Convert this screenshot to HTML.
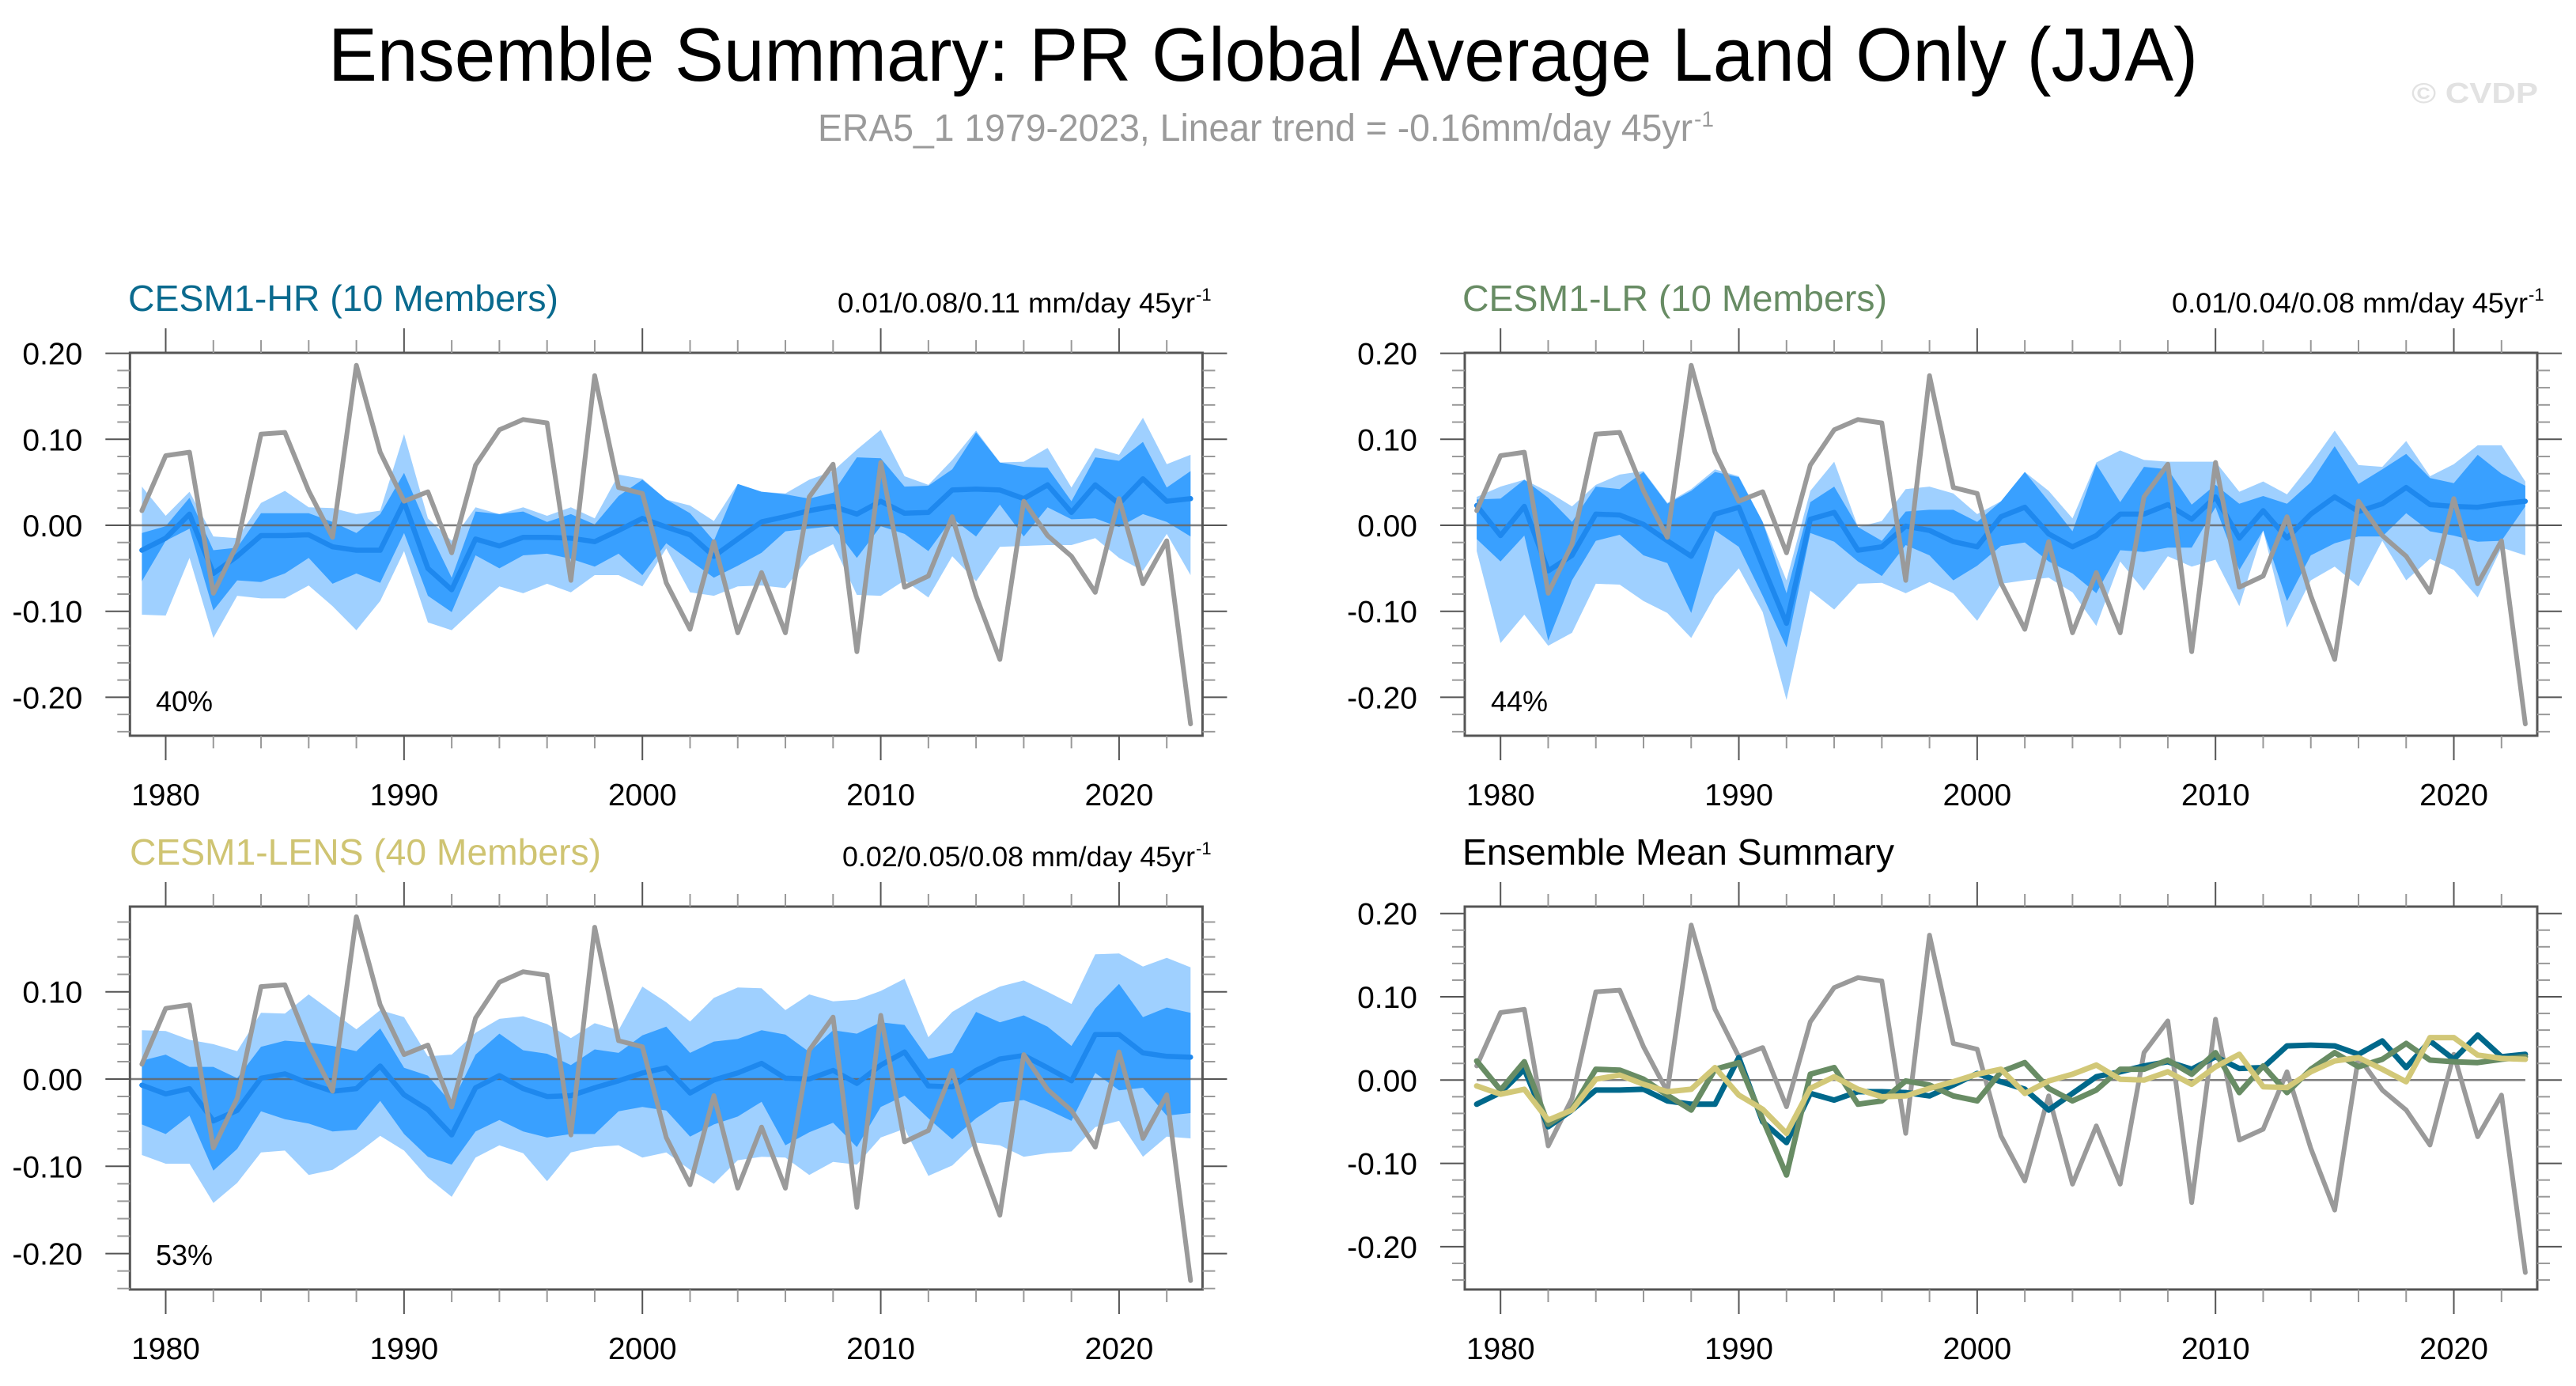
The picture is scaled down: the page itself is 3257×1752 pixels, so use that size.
<!DOCTYPE html>
<html><head><meta charset="utf-8"><title>Ensemble Summary</title>
<style>
html,body{margin:0;padding:0;background:#fff;}
svg{display:block;font-family:"Liberation Sans",Arial,sans-serif;}
</style></head>
<body>
<svg id="chart" width="3257" height="1752" viewBox="0 0 3257 1752" xmlns="http://www.w3.org/2000/svg">
<rect width="3257" height="1752" fill="#fff"/>
<text x="415" y="102" font-size="96" textLength="2364" lengthAdjust="spacingAndGlyphs" fill="#000">Ensemble Summary: PR Global Average Land Only (JJA)</text>
<text x="1034" y="178" font-size="48" textLength="1106" lengthAdjust="spacingAndGlyphs" fill="#9a9a9a">ERA5_1 1979-2023, Linear trend = -0.16mm/day 45yr</text>
<text x="2142" y="160" font-size="28" fill="#9a9a9a">-1</text>
<text x="3049" y="130" font-size="36" font-weight="bold" textLength="160" lengthAdjust="spacingAndGlyphs" fill="#e2e2e2">© CVDP</text>

<text x="162" y="393" font-size="46" textLength="544" lengthAdjust="spacingAndGlyphs" fill="#0a6a8e">CESM1-HR (10 Members)</text>
<text x="1059" y="395" font-size="35" textLength="452" lengthAdjust="spacingAndGlyphs" fill="#000">0.01/0.08/0.11 mm/day 45yr</text>
<text x="1512" y="380" font-size="22" fill="#000">-1</text>

<text x="1849" y="393" font-size="46" textLength="537" lengthAdjust="spacingAndGlyphs" fill="#688c64">CESM1-LR (10 Members)</text>
<text x="2746" y="395" font-size="35" textLength="450" lengthAdjust="spacingAndGlyphs" fill="#000">0.01/0.04/0.08 mm/day 45yr</text>
<text x="3197" y="380" font-size="22" fill="#000">-1</text>

<text x="164" y="1093" font-size="46" textLength="596" lengthAdjust="spacingAndGlyphs" fill="#cfc472">CESM1-LENS (40 Members)</text>
<text x="1065" y="1095" font-size="35" textLength="446" lengthAdjust="spacingAndGlyphs" fill="#000">0.02/0.05/0.08 mm/day 45yr</text>
<text x="1512" y="1080" font-size="22" fill="#000">-1</text>

<text x="1849" y="1093" font-size="46" textLength="546" lengthAdjust="spacingAndGlyphs" fill="#000">Ensemble Mean Summary</text>

<text x="197" y="899" font-size="36" fill="#000">40%</text>
<text x="1885" y="899" font-size="36" fill="#000">44%</text>
<text x="197" y="1599" font-size="36" fill="#000">53%</text>
</svg>
<script>
const years = [1979,1980,1981,1982,1983,1984,1985,1986,1987,1988,1989,1990,1991,1992,1993,1994,1995,1996,1997,1998,1999,2000,2001,2002,2003,2004,2005,2006,2007,2008,2009,2010,2011,2012,2013,2014,2015,2016,2017,2018,2019,2020,2021,2022,2023];
const xTickYears = [1980,1982,1984,1986,1988,1990,1992,1994,1996,1998,2000,2002,2004,2006,2008,2010,2012,2014,2016,2018,2020,2022];
const xLabelYears = [1980,1990,2000,2010,2020];
const yLabelsFull = ["0.20","0.10","0.00","-0.10","-0.20"];
const yLabelsLens = ["0.10","0.00","-0.10","-0.20"];

const era5 = [0.017,0.081,0.085,-0.079,-0.022,0.106,0.108,0.040,-0.014,0.186,0.085,0.028,0.039,-0.032,0.070,0.111,0.123,0.119,-0.064,0.174,0.044,0.037,-0.067,-0.121,-0.019,-0.125,-0.055,-0.125,0.033,0.071,-0.147,0.073,-0.072,-0.059,0.010,-0.082,-0.156,0.028,-0.012,-0.036,-0.078,0.031,-0.068,-0.018,-0.231];

const hrMean = [-0.029,-0.015,0.013,-0.056,-0.036,-0.012,-0.012,-0.011,-0.025,-0.029,-0.029,0.027,-0.050,-0.075,-0.016,-0.024,-0.014,-0.014,-0.015,-0.019,-0.006,0.008,-0.002,-0.011,-0.036,-0.016,0.004,0.010,0.017,0.022,0.013,0.028,0.014,0.015,0.041,0.042,0.041,0.031,0.047,0.015,0.047,0.025,0.054,0.028,0.031];
const hrInnerHi = [-0.009,-0.001,0.032,-0.029,-0.026,0.014,0.014,0.014,0.004,-0.009,0.013,0.061,-0.004,-0.061,0.016,0.013,0.016,0.004,0.013,0.001,0.034,0.053,0.030,0.014,-0.018,0.048,0.039,0.036,0.031,0.038,0.079,0.078,0.045,0.046,0.065,0.108,0.073,0.068,0.067,0.028,0.079,0.075,0.097,0.044,0.063];
const hrInnerLo = [-0.065,-0.018,-0.004,-0.099,-0.064,-0.066,-0.056,-0.038,-0.068,-0.056,-0.067,-0.009,-0.082,-0.101,-0.035,-0.050,-0.035,-0.033,-0.039,-0.048,-0.033,-0.058,-0.021,-0.041,-0.061,-0.047,-0.032,-0.007,-0.004,-0.001,-0.038,-0.001,-0.010,-0.030,0.008,-0.013,0.024,-0.013,0.021,0.007,0.008,-0.002,0.013,0.004,-0.013];
const hrOuterHi = [0.045,0.011,0.039,-0.013,-0.015,0.026,0.040,0.021,0.020,0.013,0.017,0.106,0.008,-0.018,0.021,0.013,0.021,0.011,0.021,0.008,0.059,0.054,0.030,0.023,0.005,0.048,0.039,0.037,0.053,0.063,0.088,0.111,0.057,0.047,0.076,0.110,0.073,0.074,0.090,0.044,0.090,0.082,0.125,0.071,0.082];
const hrOuterLo = [-0.104,-0.105,-0.038,-0.131,-0.082,-0.085,-0.085,-0.070,-0.094,-0.122,-0.088,-0.030,-0.113,-0.122,-0.096,-0.071,-0.079,-0.068,-0.078,-0.058,-0.058,-0.071,-0.027,-0.078,-0.082,-0.071,-0.070,-0.073,-0.036,-0.022,-0.081,-0.082,-0.064,-0.084,-0.036,-0.065,-0.025,-0.024,-0.023,-0.023,-0.015,-0.038,-0.053,-0.010,-0.058];

const lrMean = [0.023,-0.012,0.022,-0.053,-0.035,0.013,0.012,0.001,-0.018,-0.036,0.013,0.021,-0.047,-0.114,0.007,0.015,-0.029,-0.025,-0.001,-0.006,-0.019,-0.025,0.010,0.021,-0.010,-0.025,-0.012,0.013,0.013,0.024,0.007,0.033,-0.015,0.017,-0.015,0.013,0.033,0.016,0.025,0.044,0.024,0.022,0.021,0.025,0.028];
const lrInnerHi = [0.030,0.031,0.053,0.032,0.004,0.045,0.042,0.062,0.025,0.040,0.062,0.056,0.004,-0.079,0.027,0.045,-0.002,-0.018,0.016,0.018,0.018,0.004,0.028,0.062,0.028,-0.007,0.071,0.027,0.068,0.065,0.024,0.047,0.025,0.034,0.025,0.050,0.092,0.048,0.065,0.083,0.055,0.049,0.082,0.060,0.046];
const lrInnerLo = [-0.016,-0.042,-0.012,-0.134,-0.064,-0.018,-0.011,-0.035,-0.044,-0.102,-0.006,-0.025,-0.082,-0.142,-0.009,-0.019,-0.042,-0.059,-0.023,-0.035,-0.064,-0.047,-0.024,-0.020,-0.042,-0.056,-0.079,-0.029,-0.031,-0.026,-0.026,0.021,-0.052,-0.006,-0.088,-0.035,-0.021,-0.013,-0.013,0.014,-0.007,-0.012,-0.019,-0.018,0.022];
const lrOuterHi = [0.033,0.045,0.053,0.039,0.022,0.047,0.059,0.063,0.026,0.042,0.065,0.057,0.004,-0.064,0.040,0.074,-0.002,0.005,0.042,0.045,0.037,0.013,0.016,0.062,0.040,0.008,0.073,0.087,0.076,0.074,0.074,0.074,0.039,0.051,0.036,0.071,0.110,0.070,0.068,0.098,0.057,0.071,0.093,0.093,0.051];
const lrOuterLo = [-0.030,-0.137,-0.104,-0.140,-0.125,-0.068,-0.069,-0.088,-0.102,-0.131,-0.082,-0.050,-0.101,-0.203,-0.076,-0.098,-0.068,-0.067,-0.079,-0.066,-0.079,-0.111,-0.068,-0.064,-0.061,-0.078,-0.117,-0.042,-0.076,-0.036,-0.048,-0.040,-0.094,-0.006,-0.119,-0.064,-0.048,-0.071,-0.018,-0.064,-0.039,-0.052,-0.084,-0.026,-0.035];

const lensMean = [-0.007,-0.017,-0.011,-0.048,-0.036,0.001,0.006,-0.005,-0.014,-0.011,0.015,-0.018,-0.035,-0.064,-0.010,0.004,-0.011,-0.020,-0.019,-0.010,-0.002,0.007,0.013,-0.016,-0.001,0.007,0.018,0.001,0.000,0.010,-0.005,0.016,0.031,-0.008,-0.009,0.010,0.023,0.027,0.013,-0.002,0.051,0.051,0.030,0.026,0.025];
const lensInnerHi = [0.021,0.028,0.014,0.014,0.001,0.037,0.044,0.042,0.038,0.032,0.058,0.013,0.004,-0.028,0.028,0.052,0.033,0.029,0.016,0.034,0.030,0.050,0.060,0.030,0.043,0.046,0.056,0.051,0.031,0.056,0.052,0.065,0.062,0.023,0.030,0.077,0.065,0.073,0.060,0.038,0.081,0.109,0.071,0.082,0.076];
const lensInnerLo = [-0.052,-0.063,-0.042,-0.105,-0.080,-0.037,-0.046,-0.051,-0.060,-0.058,-0.025,-0.063,-0.089,-0.098,-0.060,-0.047,-0.060,-0.067,-0.063,-0.063,-0.037,-0.032,-0.036,-0.066,-0.052,-0.043,-0.026,-0.076,-0.061,-0.050,-0.078,-0.032,-0.019,-0.045,-0.069,-0.045,-0.027,-0.024,-0.035,-0.048,0.007,-0.013,-0.010,-0.042,-0.039];
const lensOuterHi = [0.056,0.055,0.045,0.040,0.032,0.076,0.075,0.097,0.077,0.057,0.079,0.071,0.026,0.028,0.053,0.069,0.072,0.063,0.047,0.064,0.056,0.106,0.088,0.066,0.093,0.105,0.104,0.079,0.097,0.089,0.091,0.101,0.115,0.048,0.077,0.093,0.106,0.113,0.100,0.086,0.143,0.144,0.129,0.139,0.128];
const lensOuterLo = [-0.087,-0.097,-0.097,-0.142,-0.119,-0.084,-0.082,-0.110,-0.104,-0.086,-0.065,-0.082,-0.113,-0.135,-0.090,-0.076,-0.085,-0.117,-0.084,-0.078,-0.076,-0.090,-0.084,-0.104,-0.120,-0.093,-0.089,-0.090,-0.110,-0.095,-0.098,-0.067,-0.057,-0.111,-0.099,-0.073,-0.076,-0.089,-0.085,-0.083,-0.055,-0.048,-0.089,-0.066,-0.068];

const NS = "http://www.w3.org/2000/svg";
const svg = document.getElementById("chart");
function mk(tag, attrs, parent) {
  const e = document.createElementNS(NS, tag);
  for (const k in attrs) e.setAttribute(k, attrs[k]);
  (parent || svg).appendChild(e);
  return e;
}

const panels = [
  {id:"hr", left:164.3, right:1520.4, top:446, bottom:930, zeroY:664, px:1087, labels:yLabelsFull, xlabY:1018},
  {id:"lr", left:1852, right:3208, top:446, bottom:930, zeroY:664, px:1087, labels:yLabelsFull, xlabY:1018},
  {id:"lens", left:164.3, right:1520.4, top:1146, bottom:1630, zeroY:1364, px:1103, labels:yLabelsLens, xlabY:1718},
  {id:"summary", left:1852, right:3208, top:1146, bottom:1630, zeroY:1365.3, px:1053, labels:yLabelsFull, xlabY:1718}
];
function xS(p, yr) { return p.left + (yr - 1978.5) * (p.right - p.left) / 45; }
function yS(p, v) { return p.zeroY - v * p.px; }

function drawAxes(p) {
  const g = mk("g", {});
  
  
  // x ticks top & bottom (outward)
  xTickYears.forEach(function (yr) {
    const x = xS(p, yr);
    const major = xLabelYears.indexOf(yr) >= 0;
    const len = major ? 31 : 16;
    const col = major ? "#555" : "#999";
    const t1 = mk("line", {x1:x, x2:x, y1:p.top - len, y2:p.top, stroke:col, "stroke-width":2}, g);
    
    
    const t2 = mk("line", {x1:x, x2:x, y1:p.bottom, y2:p.bottom + len, stroke:col, "stroke-width":2}, g);
    
    
    if (major) {
      const lb = mk("text", {x:x, y:p.xlabY, "font-size":39, "text-anchor":"middle", fill:"#000"}, g);
      
      
      lb.textContent = String(yr);
    }
  });
  // y ticks left & right (outward)
  for (let k = -13; k <= 11; k++) {
    const v = k * 0.02;
    const y = yS(p, v);
    if (y < p.top - 1 || y > p.bottom + 1) continue;
    const major = (k % 5 === 0);
    const len = major ? 31 : 16;
    const col = major ? "#555" : "#999";
    const a = mk("line", {x1:p.left - len, x2:p.left, y1:y, y2:y, stroke:col, "stroke-width":2}, g);
    
    
    const b = mk("line", {x1:p.right, x2:p.right + len, y1:y, y2:y, stroke:col, "stroke-width":2}, g);
    
    
    if (major) {
      const txt = (v === 0 ? "0.00" : v.toFixed(2));
      if (p.labels.indexOf(txt) >= 0) {
        const lb = mk("text", {x:p.left - 60, y:y + 14, "font-size":39, "text-anchor":"end", fill:"#000"}, g);
        
        
        lb.textContent = txt;
      }
    }
  }
}

function pathFrom(p, vals) {
  return vals.map(function (v, i) { return (i ? "L" : "M") + xS(p, years[i]).toFixed(1) + "," + yS(p, v).toFixed(1); }).join(" ");
}
function bandPath(p, hi, lo) {
  let d = "";
  years.forEach(function (yr, i) { d += (i ? "L" : "M") + xS(p, yr).toFixed(1) + "," + yS(p, hi[i]).toFixed(1) + " "; });
  for (let i = years.length - 1; i >= 0; i--) d += "L" + xS(p, years[i]).toFixed(1) + "," + yS(p, lo[i]).toFixed(1) + " ";
  return d + "Z";
}
function zeroLine(p, full) {
  const x1 = full ? p.left : xS(p, 1979), x2 = full ? p.right : xS(p, 2023);
  const z = mk("line", {x1:x1, x2:x2, y1:p.zeroY, y2:p.zeroY, stroke:"#666", "stroke-width":2.5, "stroke-opacity":0.85});
  
  
}
function frame(p) {
  const r = mk("rect", {x:p.left, y:p.top, width:p.right - p.left, height:p.bottom - p.top, fill:"none", stroke:"#555", "stroke-width":3});
  
  
}
function era5Line(p) {
  const l = mk("path", {d:pathFrom(p, era5), fill:"none", stroke:"#9a9a9a", "stroke-width":6, "stroke-linejoin":"round", "stroke-linecap":"round"});
  
  
}

function ensemblePanel(p, mean, iHi, iLo, oHi, oLo) {
  const oh = oHi.map(function (v, i) { return Math.max(v, iHi[i]); });
  const ol = oLo.map(function (v, i) { return Math.min(v, iLo[i]); });
  const ob = mk("path", {d:bandPath(p, oh, ol), fill:"#9fd0ff", stroke:"none"});
  
  
  const ib = mk("path", {d:bandPath(p, iHi, iLo), fill:"#39a0ff", stroke:"none"});
  
  
  zeroLine(p, true);
  const m = mk("path", {d:pathFrom(p, mean), fill:"none", stroke:"#1e88ee", "stroke-width":6.5, "stroke-linejoin":"round", "stroke-linecap":"round"});
  
  
  era5Line(p);
  frame(p);
  drawAxes(p);
}

ensemblePanel(panels[0], hrMean, hrInnerHi, hrInnerLo, hrOuterHi, hrOuterLo);
ensemblePanel(panels[1], lrMean, lrInnerHi, lrInnerLo, lrOuterHi, lrOuterLo);
ensemblePanel(panels[2], lensMean, lensInnerHi, lensInnerLo, lensOuterHi, lensOuterLo);

(function () {
  const p = panels[3];
  zeroLine(p, false);
  era5Line(p);
  const specs = [[hrMean, "#00688b", "summary-hr-mean-line"], [lrMean, "#688c64", "summary-lr-mean-line"], [lensMean, "#d2c878", "summary-lens-mean-line"]];
  specs.forEach(function (s) {
    const l = mk("path", {d:pathFrom(p, s[0]), fill:"none", stroke:s[1], "stroke-width":7, "stroke-linejoin":"round", "stroke-linecap":"round"});
    
    
  });
  frame(p);
  drawAxes(p);
})();
</script>
</body></html>
